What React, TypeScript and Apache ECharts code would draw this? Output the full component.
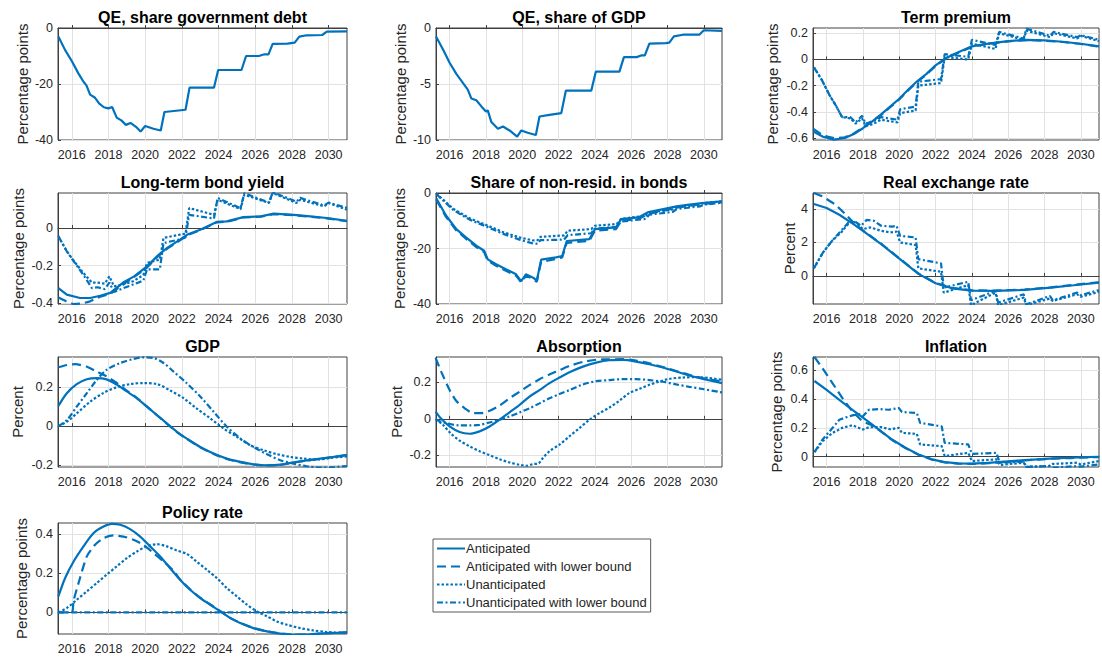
import { useEffect, useRef } from "react";
import * as echarts from "echarts";

type Pt = [number, number];

const BLUE = "#0072BD";
const FONT = "'Liberation Sans', Arial, Helvetica, sans-serif";
const AXIS_COLOR = "#404040";
const GRID_COLOR = "#e2e2e2";
const TEXT_COLOR = "#262626";

const X_MIN = 2015.25;
const X_MAX = 2031;
const X_TICKS = [2016, 2018, 2020, 2022, 2024, 2026, 2028, 2030];

const SERIES_NAMES = [
  "Anticipated",
  "Anticipated with lower bound",
  "Unanticipated",
  "Unanticipated with lower bound"
];

// QE, share government debt
const qeDebt: Pt[] = [
  [2015.27, -3], [2015.64, -7.9], [2016.0, -11.8], [2016.36, -16.2], [2016.64, -19.2], [2016.8, -20.5],
  [2017.0, -23.8], [2017.25, -24.8], [2017.5, -27], [2017.75, -28.3], [2018.0, -28.7], [2018.2, -28.2],
  [2018.45, -32], [2018.7, -33], [2018.95, -34.6], [2019.2, -33.9], [2019.5, -35.3], [2019.75, -37],
  [2020.0, -35], [2020.45, -36], [2020.85, -36.6], [2021.05, -30], [2022.2, -29.2], [2022.42, -21.3],
  [2023.75, -21.3], [2023.98, -15], [2025.25, -15], [2025.5, -10], [2026.2, -10], [2026.5, -9.4],
  [2026.72, -9.4], [2026.95, -5.7], [2027.75, -5.6], [2028.15, -5.2], [2028.4, -3.1], [2028.8, -2.6],
  [2029.65, -2.5], [2029.9, -1.3], [2031, -1.2]
];

// QE, share of GDP
const qeGdp: Pt[] = [
  [2015.25, -0.75], [2015.63, -1.9], [2016.0, -3.1], [2016.37, -4.1], [2016.73, -4.9], [2017.0, -5.5],
  [2017.2, -6.3], [2017.47, -6.45], [2017.75, -7.0], [2018.0, -7.45], [2018.1, -7.35], [2018.3, -8.4],
  [2018.66, -9.0], [2018.94, -8.8], [2019.3, -9.15], [2019.72, -9.7], [2019.95, -9.15], [2020.3, -9.35],
  [2020.75, -9.55], [2020.95, -7.9], [2021.5, -7.75], [2022.15, -7.6], [2022.4, -5.6], [2023.8, -5.6],
  [2024.05, -3.9], [2025.35, -3.9], [2025.6, -2.6], [2026.3, -2.6], [2026.55, -2.45], [2026.75, -2.45],
  [2027.0, -1.4], [2027.9, -1.35], [2028.1, -1.3], [2028.35, -0.75], [2028.85, -0.6], [2029.75, -0.6],
  [2030.0, -0.2], [2031, -0.25]
];

// Term premium
const termAnt: Pt[] = [
  [2015.27, -0.55], [2015.8, -0.59], [2016.4, -0.612], [2017.0, -0.6], [2017.5, -0.57], [2018.0, -0.525],
  [2018.5, -0.475], [2019.0, -0.42], [2019.5, -0.36], [2020.0, -0.3], [2020.5, -0.23], [2021.0, -0.165],
  [2021.5, -0.11], [2022.0, -0.045], [2022.5, 0.005], [2023.0, 0.04], [2023.5, 0.07], [2024.0, 0.1],
  [2024.5, 0.112], [2025.0, 0.122], [2026.0, 0.14], [2027.0, 0.15], [2028.0, 0.145], [2029.0, 0.135],
  [2030.0, 0.12], [2031, 0.1]
];
const termAntLb: Pt[] = [
  [2015.27, -0.53], [2015.8, -0.58], [2016.4, -0.6], [2017.0, -0.595], [2017.5, -0.565], [2018.0, -0.52],
  [2018.5, -0.47], [2019.0, -0.425], [2019.5, -0.365], [2020.0, -0.305], [2020.5, -0.235], [2021.0, -0.17],
  [2021.5, -0.115], [2022.0, -0.05], [2022.5, 0.0], [2023.0, 0.035], [2023.5, 0.065], [2024.0, 0.095],
  [2024.5, 0.11], [2025.0, 0.12], [2026.0, 0.138], [2027.0, 0.148], [2028.0, 0.143], [2029.0, 0.133],
  [2030.0, 0.118], [2031, 0.098]
];
const termUnant: Pt[] = [
  [2015.3, -0.06], [2015.75, -0.16], [2016.15, -0.27], [2016.5, -0.35], [2016.85, -0.44], [2017.3, -0.45],
  [2017.6, -0.49], [2017.95, -0.45], [2018.15, -0.51], [2018.6, -0.49], [2019.0, -0.46], [2019.4, -0.47],
  [2019.9, -0.48], [2020.05, -0.41], [2020.9, -0.39], [2021.05, -0.2], [2022.3, -0.18], [2022.5, 0.02],
  [2023.8, 0.0], [2024.0, 0.12], [2025.3, 0.08], [2025.5, 0.2], [2026.85, 0.15], [2027.0, 0.22],
  [2028.3, 0.17], [2028.5, 0.2], [2029.8, 0.16], [2030.0, 0.18], [2031, 0.14]
];
const termUnantLb: Pt[] = [
  [2015.3, -0.06], [2015.75, -0.16], [2016.15, -0.27], [2016.5, -0.35], [2016.85, -0.44], [2017.3, -0.44],
  [2017.6, -0.48], [2017.95, -0.43], [2018.15, -0.49], [2018.6, -0.47], [2019.0, -0.44], [2019.4, -0.45],
  [2019.9, -0.46], [2020.05, -0.38], [2020.9, -0.36], [2021.05, -0.17], [2022.3, -0.15], [2022.5, 0.04],
  [2023.8, 0.02], [2024.0, 0.15], [2025.3, 0.11], [2025.5, 0.21], [2026.85, 0.16], [2027.0, 0.235],
  [2028.3, 0.18], [2028.5, 0.21], [2029.8, 0.17], [2030.0, 0.185], [2031, 0.15]
];

// Long-term bond yield
const yieldAnt: Pt[] = [
  [2015.27, -0.32], [2015.73, -0.354], [2016.45, -0.372], [2017.0, -0.372], [2017.55, -0.36], [2018.1, -0.345],
  [2018.8, -0.29], [2019.4, -0.257], [2020.1, -0.204], [2020.65, -0.15], [2021.2, -0.106], [2021.9, -0.062],
  [2022.3, -0.035], [2023.0, -0.009], [2023.9, 0.032], [2024.45, 0.035], [2025.35, 0.058], [2026.3, 0.062],
  [2027.0, 0.076], [2028.1, 0.07], [2029.0, 0.062], [2029.9, 0.053], [2031, 0.038]
];
const yieldAntLb: Pt[] = [
  [2015.27, -0.37], [2015.7, -0.39], [2016.1, -0.405], [2016.6, -0.4], [2017.0, -0.39], [2017.55, -0.365],
  [2018.1, -0.35], [2018.8, -0.3], [2019.4, -0.26], [2020.1, -0.21], [2020.65, -0.155], [2021.2, -0.11],
  [2021.9, -0.065], [2022.3, -0.038], [2023.0, -0.012], [2023.9, 0.03], [2024.45, 0.033], [2025.35, 0.056],
  [2026.3, 0.06], [2027.0, 0.074], [2028.1, 0.068], [2029.0, 0.06], [2029.9, 0.051], [2031, 0.036]
];
const yieldUnant: Pt[] = [
  [2015.27, -0.044], [2015.73, -0.124], [2016.2, -0.186], [2016.64, -0.24], [2017.1, -0.29], [2017.4, -0.29],
  [2017.8, -0.296], [2018.05, -0.257], [2018.3, -0.31], [2018.8, -0.3], [2019.35, -0.283], [2019.9, -0.25],
  [2020.1, -0.186], [2020.8, -0.168], [2021.0, -0.053], [2021.9, -0.035], [2022.2, -0.03], [2022.4, 0.106],
  [2023.75, 0.07], [2023.95, 0.15], [2025.2, 0.1], [2025.4, 0.177], [2026.75, 0.133], [2026.95, 0.186],
  [2028.25, 0.133], [2028.45, 0.15], [2029.75, 0.115], [2030.0, 0.133], [2031, 0.097]
];
const yieldUnantLb: Pt[] = [
  [2015.27, -0.044], [2015.73, -0.124], [2016.2, -0.19], [2016.64, -0.25], [2017.1, -0.32], [2017.4, -0.315],
  [2017.8, -0.325], [2018.05, -0.29], [2018.3, -0.34], [2018.8, -0.32], [2019.35, -0.3], [2019.9, -0.28],
  [2020.1, -0.22], [2020.8, -0.22], [2021.0, -0.08], [2021.9, -0.06], [2022.2, -0.05], [2022.4, 0.07],
  [2023.75, 0.05], [2023.95, 0.16], [2025.2, 0.105], [2025.4, 0.185], [2026.75, 0.135], [2026.95, 0.19],
  [2028.25, 0.14], [2028.45, 0.16], [2029.75, 0.12], [2030.0, 0.135], [2031, 0.107]
];

// Share of non-resid. in bonds
const nonresAnt: Pt[] = [
  [2015.27, -2], [2015.8, -8.1], [2016.37, -13], [2016.9, -16], [2017.47, -19], [2017.9, -20.8],
  [2018.1, -23.9], [2018.56, -25.7], [2019.1, -27.5], [2019.66, -29.3], [2019.94, -31.8], [2020.2, -29.3],
  [2020.6, -30.5], [2020.8, -31.6], [2021.04, -24], [2021.86, -23.2], [2022.2, -22.7], [2022.45, -17.3],
  [2023.7, -16.6], [2024.0, -13], [2025.16, -12.4], [2025.45, -9.4], [2026.4, -8.8], [2026.9, -7],
  [2027.7, -5.9], [2028.5, -4.8], [2029.2, -4.2], [2029.9, -3.6], [2031, -3.0]
];
const nonresAntLb: Pt[] = [
  [2015.27, -2.5], [2015.8, -8.6], [2016.37, -13.5], [2016.9, -16.5], [2017.47, -19.5], [2017.9, -21.3],
  [2018.1, -24.4], [2018.56, -26.2], [2019.1, -28], [2019.66, -29.8], [2019.94, -32.2], [2020.2, -29.8],
  [2020.6, -31], [2020.8, -32], [2021.04, -24.8], [2021.86, -23.8], [2022.2, -23.2], [2022.45, -18],
  [2023.7, -17.2], [2024.0, -13.6], [2025.16, -13], [2025.45, -10], [2026.4, -9.4], [2026.9, -7.6],
  [2027.7, -6.5], [2028.5, -5.3], [2029.2, -4.6], [2029.9, -4.0], [2031, -3.4]
];
const nonresUnant: Pt[] = [
  [2015.27, -0.2], [2016.2, -5.7], [2017.1, -9.1], [2018.0, -11.5], [2018.9, -14], [2019.85, -16],
  [2020.6, -17.1], [2020.85, -17], [2021.0, -15.8], [2022.3, -15.3], [2022.5, -13.6], [2023.8, -13],
  [2024.0, -11.8], [2025.2, -11.2], [2025.45, -9.3], [2026.8, -8.2], [2027.0, -6.9], [2028.3, -5.9],
  [2028.5, -5.0], [2029.8, -4.3], [2030.0, -3.6], [2031, -3.0]
];
const nonresUnantLb: Pt[] = [
  [2015.27, -0.4], [2016.2, -6.1], [2017.1, -9.6], [2018.0, -12], [2018.9, -14.6], [2019.85, -16.8],
  [2020.6, -18.2], [2020.85, -18.3], [2021.0, -17], [2022.3, -16.8], [2022.5, -15.2], [2023.8, -14.5],
  [2024.0, -12.8], [2025.2, -12.2], [2025.45, -10.3], [2026.8, -9.3], [2027.0, -7.8], [2028.3, -6.8],
  [2028.5, -5.8], [2029.8, -4.8], [2030.0, -4.2], [2031, -3.5]
];

// Real exchange rate
const rerAnt: Pt[] = [
  [2015.3, 4.3], [2016, 4.06], [2016.7, 3.66], [2017.4, 3.16], [2018, 2.7], [2019.06, 1.86], [2019.97, 1.06],
  [2021.06, 0.12], [2022.0, -0.44], [2022.9, -0.74], [2024, -0.88], [2025.25, -0.9], [2026.9, -0.84],
  [2028.35, -0.7], [2029.6, -0.56], [2031, -0.4]
];
const rerAntLb: Pt[] = [
  [2015.3, 4.96], [2015.75, 4.76], [2016.5, 4.26], [2017.06, 3.66], [2017.5, 3.16], [2018, 2.72],
  [2019.06, 1.88], [2019.97, 1.08], [2021.06, 0.14], [2022.0, -0.42], [2022.9, -0.72], [2024, -0.86],
  [2025.25, -0.88], [2026.9, -0.82], [2028.35, -0.68], [2029.6, -0.54], [2031, -0.38]
];
const rerUnant: Pt[] = [
  [2015.3, 0.46], [2015.8, 1.4], [2016.3, 2.1], [2016.8, 2.6], [2017.1, 3.0], [2017.4, 3.3], [2017.7, 3.1],
  [2018.0, 2.8], [2018.4, 2.9], [2019.0, 2.7], [2019.5, 2.6], [2019.85, 2.65], [2020.05, 2.0], [2020.9, 1.85],
  [2021.05, 0.45], [2022.3, 0.25], [2022.45, -1.0], [2023.8, -0.55], [2023.95, -1.75], [2025.3, -1.0],
  [2025.45, -1.75], [2026.85, -1.3], [2027.0, -1.75], [2028.3, -1.35], [2028.45, -1.5], [2029.8, -1.1],
  [2030.0, -1.25], [2031, -0.95]
];
const rerUnantLb: Pt[] = [
  [2015.3, 0.46], [2015.8, 1.4], [2016.3, 2.1], [2016.8, 2.7], [2017.2, 3.2], [2017.5, 3.3], [2017.9, 3.0],
  [2018.2, 3.35], [2018.6, 3.3], [2019.0, 3.0], [2019.6, 2.95], [2019.85, 3.0], [2020.05, 2.4], [2020.9, 2.3],
  [2021.05, 1.0], [2022.3, 0.75], [2022.45, -0.7], [2023.8, -0.35], [2023.95, -1.45], [2025.3, -0.9],
  [2025.45, -1.6], [2026.85, -1.1], [2027.0, -1.7], [2028.3, -1.2], [2028.45, -1.45], [2029.8, -1.0],
  [2030.0, -1.15], [2031, -0.85]
];

// GDP
const gdpAnt: Pt[] = [
  [2015.27, 0.103], [2015.73, 0.169], [2016.27, 0.216], [2016.82, 0.241], [2017.36, 0.247], [2017.9, 0.24],
  [2018.45, 0.213], [2019, 0.178], [2019.55, 0.143], [2020.1, 0.1], [2020.64, 0.057], [2021.18, 0.014],
  [2021.73, -0.029], [2022.27, -0.064], [2023, -0.107], [2023.73, -0.141], [2024.45, -0.167], [2025.2, -0.184],
  [2025.9, -0.196], [2026.64, -0.201], [2027.36, -0.198], [2028.1, -0.186], [2028.8, -0.176], [2029.55, -0.167],
  [2030.27, -0.158], [2031, -0.148]
];
const gdpAntLb: Pt[] = [
  [2015.27, 0.302], [2015.73, 0.314], [2016.2, 0.318], [2016.8, 0.306], [2017.36, 0.28], [2017.9, 0.255],
  [2018.45, 0.222], [2019, 0.182], [2019.55, 0.145], [2020.1, 0.1], [2020.64, 0.056], [2021.18, 0.012],
  [2021.73, -0.031], [2022.27, -0.066], [2023, -0.109], [2023.73, -0.143], [2024.45, -0.169], [2025.2, -0.186],
  [2025.9, -0.197], [2026.64, -0.202], [2027.36, -0.199], [2028.1, -0.187], [2028.8, -0.177], [2029.55, -0.168],
  [2030.27, -0.159], [2031, -0.149]
];
const gdpUnant: Pt[] = [
  [2015.27, 0.0], [2015.73, 0.022], [2016.27, 0.065], [2017, 0.125], [2017.7, 0.169], [2018.45, 0.2],
  [2019.2, 0.216], [2019.9, 0.221], [2020.64, 0.216], [2021.36, 0.183], [2022.1, 0.143], [2022.8, 0.091],
  [2023.55, 0.04], [2024.27, -0.012], [2025, -0.055], [2025.73, -0.098], [2026.45, -0.124], [2027.18, -0.144],
  [2027.9, -0.158], [2028.64, -0.167], [2029.36, -0.172], [2030.1, -0.164], [2031, -0.155]
];
const gdpUnantLb: Pt[] = [
  [2015.27, 0.0], [2015.73, 0.031], [2016.27, 0.1], [2016.82, 0.169], [2017.36, 0.237], [2017.9, 0.289],
  [2018.64, 0.324], [2019.36, 0.345], [2019.9, 0.353], [2020.45, 0.35], [2021, 0.324], [2021.55, 0.28],
  [2022.27, 0.22], [2023, 0.152], [2023.73, 0.074], [2024.45, -0.003], [2025.2, -0.064], [2025.9, -0.107],
  [2026.64, -0.144], [2027.36, -0.175], [2028.1, -0.193], [2028.8, -0.206], [2029.55, -0.213], [2030.27, -0.21],
  [2031, -0.205]
];

// Absorption
const absAnt: Pt[] = [
  [2015.23, 0.04], [2015.54, 0.0], [2016, -0.042], [2016.55, -0.073], [2017.1, -0.082], [2017.65, -0.069],
  [2018.2, -0.042], [2018.75, -0.005], [2019.3, 0.036], [2019.85, 0.076], [2020.4, 0.122], [2020.95, 0.158],
  [2021.5, 0.196], [2022.05, 0.227], [2022.6, 0.256], [2023.34, 0.287], [2024.07, 0.309], [2024.8, 0.322],
  [2025.54, 0.324], [2026.27, 0.315], [2027, 0.3], [2027.74, 0.282], [2028.48, 0.26], [2029.2, 0.238],
  [2029.94, 0.22], [2031, 0.196]
];
const absAntLb: Pt[] = [
  [2015.23, 0.335], [2015.54, 0.258], [2016, 0.158], [2016.37, 0.098], [2016.83, 0.058], [2017.28, 0.031],
  [2017.74, 0.031], [2018.2, 0.044], [2018.75, 0.073], [2019.3, 0.113], [2019.85, 0.149], [2020.4, 0.185],
  [2020.95, 0.218], [2021.5, 0.244], [2022.05, 0.267], [2022.6, 0.291], [2023.34, 0.313], [2024.07, 0.325],
  [2024.8, 0.327], [2025.54, 0.328], [2026.27, 0.32], [2027, 0.305], [2027.74, 0.285], [2028.48, 0.263],
  [2029.2, 0.242], [2029.94, 0.224], [2031, 0.205]
];
const absUnant: Pt[] = [
  [2015.23, 0.0], [2015.63, -0.033], [2016.1, -0.084], [2016.55, -0.12], [2017.1, -0.151], [2017.65, -0.178],
  [2018.2, -0.2], [2018.75, -0.222], [2019.3, -0.24], [2019.85, -0.253], [2020.2, -0.258], [2020.6, -0.249],
  [2020.9, -0.245], [2021.14, -0.215], [2021.5, -0.178], [2022.05, -0.142], [2022.6, -0.096], [2023.15, -0.051],
  [2023.7, -0.005], [2024.25, 0.031], [2024.8, 0.062], [2025.36, 0.1], [2025.9, 0.142], [2026.46, 0.165],
  [2027, 0.187], [2027.56, 0.205], [2028.1, 0.22], [2028.85, 0.227], [2029.6, 0.229], [2030.3, 0.224],
  [2031, 0.215]
];
const absUnantLb: Pt[] = [
  [2015.23, -0.005], [2015.82, -0.024], [2016.55, -0.036], [2017.1, -0.036], [2017.65, -0.033], [2018.2, -0.02],
  [2018.75, -0.005], [2019.3, 0.013], [2019.85, 0.035], [2020.4, 0.058], [2020.95, 0.085], [2021.5, 0.113],
  [2022.05, 0.136], [2022.6, 0.158], [2023.34, 0.189], [2024.07, 0.207], [2024.8, 0.213], [2025.54, 0.218],
  [2026.27, 0.218], [2027, 0.213], [2027.74, 0.204], [2028.48, 0.189], [2029.2, 0.176], [2029.94, 0.164],
  [2031, 0.145]
];

// Inflation
const inflAnt: Pt[] = [
  [2015.33, 0.524], [2016, 0.462], [2016.7, 0.394], [2017.42, 0.325], [2018.15, 0.256], [2018.88, 0.188],
  [2019.6, 0.119], [2020.34, 0.062], [2021.06, 0.016], [2021.8, -0.018], [2022.5, -0.037], [2023.25, -0.046],
  [2024, -0.048], [2024.9, -0.043], [2025.8, -0.034], [2026.7, -0.025], [2027.6, -0.018], [2028.5, -0.011],
  [2029.45, -0.007], [2030.35, -0.002], [2031, 0.0]
];
const inflAntLb: Pt[] = [
  [2015.33, 0.69], [2015.78, 0.611], [2016.33, 0.508], [2016.87, 0.405], [2017.42, 0.313], [2017.97, 0.245],
  [2018.5, 0.218], [2018.88, 0.185], [2019.6, 0.116], [2020.34, 0.06], [2021.06, 0.014], [2021.8, -0.02],
  [2022.5, -0.039], [2023.25, -0.048], [2024, -0.05], [2024.9, -0.045], [2025.8, -0.036], [2026.7, -0.027],
  [2027.6, -0.02], [2028.5, -0.013], [2029.45, -0.009], [2030.35, -0.004], [2031, -0.002]
];
const inflUnant: Pt[] = [
  [2015.33, 0.032], [2015.78, 0.108], [2016.33, 0.165], [2016.87, 0.2], [2017.42, 0.218], [2018, 0.188],
  [2018.33, 0.204], [2019.0, 0.205], [2019.5, 0.19], [2019.97, 0.2], [2020.15, 0.165], [2020.97, 0.158],
  [2021.15, 0.085], [2022.34, 0.073], [2022.5, 0.005], [2023.8, 0.027], [2024, -0.03], [2025.35, -0.018],
  [2025.53, -0.057], [2026.85, -0.041], [2027.0, -0.07], [2028.25, -0.064], [2028.45, -0.05], [2029.8, -0.041],
  [2030.0, -0.053], [2031, -0.03]
];
const inflUnantLb: Pt[] = [
  [2015.33, 0.032], [2015.78, 0.12], [2016.33, 0.2], [2016.7, 0.256], [2017.06, 0.272], [2017.42, 0.286],
  [2017.8, 0.295], [2018, 0.28], [2018.33, 0.325], [2018.88, 0.33], [2019.42, 0.325], [2019.97, 0.337],
  [2020.15, 0.31], [2020.97, 0.302], [2021.15, 0.234], [2022.34, 0.21], [2022.5, 0.096], [2023.8, 0.085],
  [2024, 0.02], [2025.35, 0.027], [2025.53, -0.041], [2026.85, -0.034], [2027.0, -0.071], [2028.25, -0.064],
  [2028.45, -0.075], [2029.8, -0.065], [2030, -0.068], [2031, -0.053]
];

// Policy rate
const polAnt: Pt[] = [
  [2015.27, 0.081], [2015.64, 0.175], [2016.1, 0.259], [2016.64, 0.336], [2017.18, 0.403], [2017.73, 0.437],
  [2018.18, 0.451], [2018.64, 0.446], [2019.18, 0.424], [2019.73, 0.386], [2020.27, 0.336], [2020.82, 0.285],
  [2021.36, 0.225], [2021.9, 0.166], [2022.45, 0.115], [2023, 0.073], [2023.55, 0.039], [2024.1, 0.005],
  [2024.64, -0.029], [2025.18, -0.054], [2025.9, -0.08], [2026.64, -0.097], [2027.36, -0.108], [2028.1, -0.114],
  [2028.8, -0.114], [2029.55, -0.108], [2030.27, -0.105], [2031, -0.102]
];
const polAntLb: Pt[] = [
  [2015.27, 0], [2016.0, 0], [2016.1, 0.06], [2016.45, 0.175], [2016.82, 0.285], [2017.27, 0.344],
  [2017.73, 0.378], [2018.27, 0.392], [2018.82, 0.386], [2019.36, 0.37], [2019.9, 0.344], [2020.45, 0.302],
  [2021, 0.259], [2021.55, 0.212], [2021.9, 0.168], [2022.45, 0.117], [2023, 0.075], [2023.55, 0.04],
  [2024.1, 0.006], [2024.64, -0.028], [2025.18, -0.053], [2025.9, -0.079], [2026.64, -0.096], [2027.36, -0.107],
  [2028.1, -0.113], [2028.8, -0.113], [2029.55, -0.107], [2030.27, -0.104], [2031, -0.101]
];
const polUnant: Pt[] = [
  [2015.27, 0], [2015.73, 0.022], [2016.27, 0.064], [2016.82, 0.107], [2017.36, 0.149], [2017.9, 0.192],
  [2018.45, 0.234], [2019, 0.276], [2019.55, 0.31], [2020.1, 0.336], [2020.64, 0.347], [2021.18, 0.336],
  [2021.73, 0.315], [2022.27, 0.298], [2022.8, 0.259], [2023.36, 0.217], [2023.9, 0.175], [2024.45, 0.124],
  [2025, 0.081], [2025.55, 0.039], [2026.1, 0.005], [2026.64, -0.02], [2027.18, -0.046], [2027.73, -0.063],
  [2028.45, -0.08], [2029.18, -0.092], [2029.9, -0.1], [2031, -0.105]
];
const polUnantLb: Pt[] = [[2015.27, 0], [2031, 0]];

// per-panel axis settings (ranges and tick labels)
const panels = [
  { title: "QE, share government debt", ylabel: "Percentage points", min: -40, max: 0, ticks: [-40, -20, 0], gap: 28, smooth: false, lines: [qeDebt] },
  { title: "QE, share of GDP", ylabel: "Percentage points", min: -10, max: 0, ticks: [-10, -5, 0], gap: 28.5, smooth: false, lines: [qeGdp] },
  { title: "Term premium", ylabel: "Percentage points", min: -0.615, max: 0.24, ticks: [-0.6, -0.4, -0.2, 0, 0.2], gap: 33.5, smooth: false, lines: [termAnt, termAntLb, termUnant, termUnantLb] },
  { title: "Long-term bond yield", ylabel: "Percentage points", min: -0.404, max: 0.186, ticks: [-0.4, -0.2, 0], gap: 32.5, smooth: false, lines: [yieldAnt, yieldAntLb, yieldUnant, yieldUnantLb] },
  { title: "Share of non-resid. in bonds", ylabel: "Percentage points", min: -40, max: 0, ticks: [-40, -20, 0], gap: 29, smooth: false, lines: [nonresAnt, nonresAntLb, nonresUnant, nonresUnantLb] },
  { title: "Real exchange rate", ylabel: "Percent", min: -1.68, max: 4.96, ticks: [0, 2, 4], gap: 16.5, smooth: false, lines: [rerAnt, rerAntLb, rerUnant, rerUnantLb] },
  { title: "GDP", ylabel: "Percent", min: -0.21, max: 0.355, ticks: [-0.2, 0, 0.2], gap: 33, smooth: true, lines: [gdpAnt, gdpAntLb, gdpUnant, gdpUnantLb] },
  { title: "Absorption", ylabel: "Percent", min: -0.265, max: 0.34, ticks: [-0.2, 0, 0.2], gap: 32.5, smooth: true, lines: [absAnt, absAntLb, absUnant, absUnantLb] },
  { title: "Inflation", ylabel: "Percentage points", min: -0.071, max: 0.69, ticks: [0, 0.2, 0.4, 0.6], gap: 29.5, smooth: false, lines: [inflAnt, inflAntLb, inflUnant, inflUnantLb] },
  { title: "Policy rate", ylabel: "Percentage points", min: -0.11, max: 0.455, ticks: [0, 0.2, 0.4], gap: 29.5, smooth: true, lines: [polAnt, polAntLb, polUnant, polUnantLb] }
];

const COL_LEFT = [58, 436, 813];
const COL_WIDTH = [289, 286, 286];
const ROW_TOP = [28, 193, 357, 523];
const ROW_HEIGHT = [112, 111, 110, 111];

const DASHES: (string | number[])[] = ["solid", [9, 5], [2.5, 2], [6, 2.5, 2, 2.5]];

function buildOption() {
  const grid = panels.map((_, i) => ({
    left: COL_LEFT[i % 3],
    top: ROW_TOP[Math.floor(i / 3)],
    width: COL_WIDTH[i % 3],
    height: ROW_HEIGHT[Math.floor(i / 3)],
    show: true,
    borderColor: AXIS_COLOR,
    borderWidth: 1,
    backgroundColor: "#fff",
    containLabel: false,
    outerBoundsMode: "none"
  }));

  const xAxis = panels.map((_, i) => ({
    type: "value",
    gridIndex: i,
    min: X_MIN,
    max: X_MAX,
    axisLine: { show: true, lineStyle: { color: AXIS_COLOR, width: 1 } },
    axisTick: { show: true, inside: true, length: 3, customValues: X_TICKS, lineStyle: { color: AXIS_COLOR } },
    axisLabel: {
      customValues: X_TICKS,
      formatter: (v: number) => String(v),
      color: TEXT_COLOR,
      fontFamily: FONT,
      fontSize: 12.5,
      margin: 8
    },
    splitLine: { show: true, lineStyle: { color: GRID_COLOR, width: 1 } }
  }));

  const yAxis = panels.map((p, i) => ({
    type: "value",
    gridIndex: i,
    min: p.min,
    max: p.max,
    name: p.ylabel,
    nameLocation: "middle",
    nameGap: p.gap,
    nameTextStyle: { color: TEXT_COLOR, fontFamily: FONT, fontSize: 15 },
    axisLine: { show: true, lineStyle: { color: AXIS_COLOR, width: 1 } },
    axisTick: { show: true, inside: true, length: 3, customValues: p.ticks, lineStyle: { color: AXIS_COLOR } },
    axisLabel: {
      customValues: p.ticks,
      formatter: (v: number) => String(v),
      color: TEXT_COLOR,
      fontFamily: FONT,
      fontSize: 12.5,
      margin: 5
    },
    splitLine: { show: true, lineStyle: { color: GRID_COLOR, width: 1 } }
  }));

  const series = panels.flatMap((p, i) =>
    p.lines.map((data, k) => ({
      name: SERIES_NAMES[k],
      type: "line",
      xAxisIndex: i,
      yAxisIndex: i,
      data,
      symbol: "none",
      showSymbol: false,
      smooth: p.smooth && k !== 1 ? 0.3 : p.smooth ? 0.2 : false,
      clip: true,
      silent: true,
      animation: false,
      lineStyle: { color: BLUE, width: 2.2, type: DASHES[k], cap: "butt" },
      itemStyle: { color: BLUE },
      emphasis: { disabled: true }
    }))
  );

  const titles = panels.map((p, i) => ({
    type: "text",
    x: COL_LEFT[i % 3] + COL_WIDTH[i % 3] / 2,
    y: ROW_TOP[Math.floor(i / 3)] - 11,
    silent: true,
    style: {
      text: p.title,
      align: "center",
      verticalAlign: "middle",
      textAlign: "center",
      textVerticalAlign: "middle",
      fontFamily: FONT,
      fontSize: 16,
      fontWeight: "bold",
      fill: "#000"
    }
  }));

  return {
    animation: false,
    backgroundColor: "#fff",
    textStyle: { fontFamily: FONT },
    grid,
    xAxis,
    yAxis,
    series,
    graphic: titles,
    legend: {
      data: SERIES_NAMES,
      orient: "vertical",
      left: 433,
      top: 539,
      itemWidth: 28,
      itemHeight: 12,
      itemGap: 5,
      padding: [3, 4, 3, 3],
      borderColor: "#5a5a5a",
      borderWidth: 1,
      backgroundColor: "#fff",
      selectedMode: false,
      inactiveColor: BLUE,
      itemStyle: { opacity: 0 },
      textStyle: { color: TEXT_COLOR, fontFamily: FONT, fontSize: 13, padding: [0, 0, 0, -4] }
    }
  };
}

export default function App() {
  const hostRef = useRef<HTMLDivElement>(null);

  useEffect(() => {
    const host = hostRef.current;
    if (host === null) return;
    const chart = echarts.init(host, undefined, { renderer: "svg" });
    chart.setOption(buildOption() as any);
    return () => {
      chart.dispose();
    };
  }, []);

  return (
    <div
      ref={hostRef}
      style={{ position: "fixed", left: 0, top: 0, width: 1102, height: 660, background: "#fff" }}
    />
  );
}
